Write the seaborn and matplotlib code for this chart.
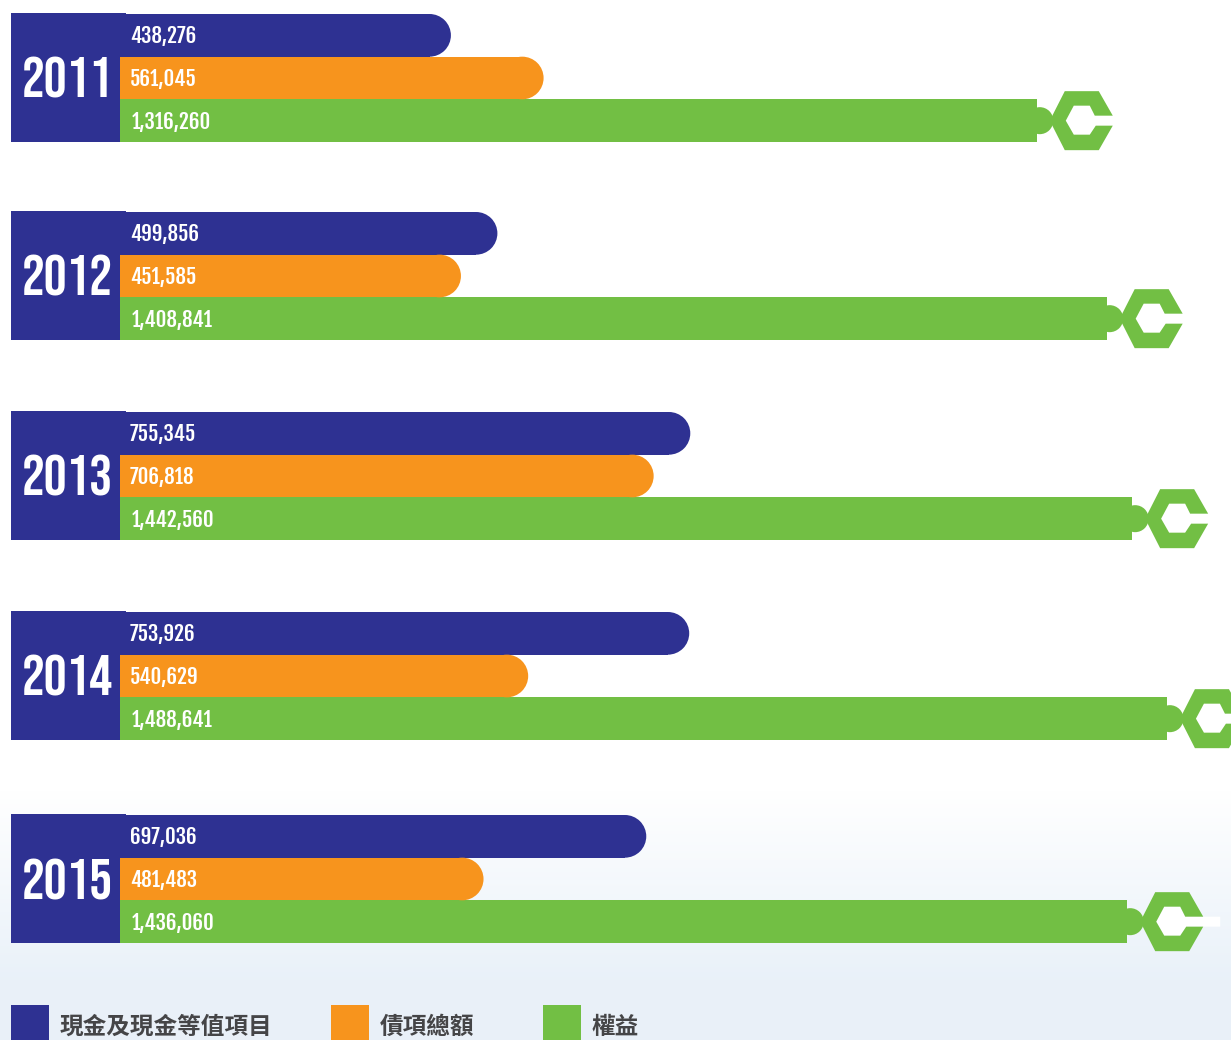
import numpy as np
import pandas as pd
import seaborn as sns
import matplotlib.pyplot as plt
from matplotlib.patches import Ellipse, Polygon, Rectangle

# Data
years = ['2011', '2012', '2013', '2014', '2015']
items = ['現金及現金等值項目', '債項總額', '權益']
cash = [438276, 499856, 755345, 753926, 697036]
debt = [561045, 451585, 706818, 540629, 481483]
equity = [1316260, 1408841, 1442560, 1488641, 1436060]

# Colours and layout, in pixels of the 1231x1040 picture
colors = ['#2e3192', '#f7941d', '#72bf44']
W, H = 1231, 1040
panel_tops = [14, 212, 412, 612, 815]
panel_h = 128
bar_x0 = 120
px_per_value = 0.000755
legend_x = [11, 331, 543]

# Wrench head, offsets from the tip of the equity bar
wrench = [(-49, -29.5), (-15, -29.5), (-1, -5), (-19, -5), (-24, -15), (-40, -15), (-48, 0),
          (-40, 14), (-24, 14), (-18, 5), (-1, 5), (-15, 29.5), (-49, 29.5), (-64, 0)]
wrench_gap = [(-19, -5), (-24, -15), (-40, -15), (-48, 0), (-40, 14), (-24, 14), (-18, 5),
              (16, 5), (16, -5)]

sns.set_theme(style='white')
plt.rcParams['font.family'] = ['Bebas Neue', 'Liberation Sans Narrow', 'DejaVu Sans']
label_fonts = ['Fjalla One', 'Liberation Sans Narrow', 'DejaVu Sans']

fig = plt.figure(figsize=(W / 100, H / 100), dpi=100)

# Background layer in picture pixels
bg = fig.add_axes([0, 0, 1, 1])
ramp = np.clip((np.arange(H) - 790) / 190, 0, 1)[:, None, None]
white = np.array([1.0, 1.0, 1.0])
pale = np.array([0.914, 0.945, 0.976])
bg.imshow(white + ramp * (pale - white), extent=[0, W, H, 0], aspect='auto')
bg.set_xlim(0, W)
bg.set_ylim(H, 0)
bg.axis('off')

for top in panel_tops:
    bg.add_patch(Rectangle((11, top - 1), 109, panel_h + 1, color=colors[0], lw=0))
    bg.add_patch(Rectangle((11, top - 1), 115, 4, color=colors[0], lw=0))

# One small axes for each year
for i, year in enumerate(years):
    df = pd.DataFrame({'item': items, 'value': [cash[i], debt[i], equity[i]]})
    ax = fig.add_axes([bar_x0 / W, 1 - (panel_tops[i] + panel_h) / H, (W - bar_x0) / W, panel_h / H])
    sns.barplot(data=df, x='value', y='item', hue='item', palette=colors, hue_order=items,
                width=1, saturation=1, legend=False, linewidth=0, ax=ax)
    ax.set_xlim(0, (W - bar_x0) / px_per_value)
    ax.set_ylim(2.5, -0.5)
    ax.axis('off')

    unit_x = 1 / px_per_value
    unit_y = 3 / panel_h
    for j, bar in enumerate(list(ax.patches)):
        end = bar.get_width()
        yc = bar.get_y() + bar.get_height() / 2
        bar.set_edgecolor('none')
        if j < 2:
            # round the end of the bar
            r = panel_h / 6
            bar.set_width(end - r * unit_x)
            ax.add_patch(Ellipse((end - r * unit_x, yc), 2 * r * unit_x, 2 * r * unit_y,
                                 color=colors[j], lw=0))
        else:
            # equity bar ends in a spanner
            bar.set_width(end - 77 * unit_x)
            ax.add_patch(Ellipse((end - 74 * unit_x, yc), 27 * unit_x, 27 * unit_y,
                                 color=colors[j], lw=0))
            gap = [(end + dx * unit_x, yc + dy * unit_y) for dx, dy in wrench_gap]
            head = [(end + dx * unit_x, yc + dy * unit_y) for dx, dy in wrench]
            ax.add_patch(Polygon(gap, color='white', lw=0, zorder=3, clip_on=False))
            ax.add_patch(Polygon(head, color=colors[j], lw=0, zorder=4, clip_on=False))

        ax.annotate(f'{df.value[j]:,}', (0, yc), xytext=(12 if j == 2 else 10, -1),
                    textcoords='offset pixels', ha='left', va='center', family=label_fonts,
                    color='white', fontsize=15, zorder=5)

    ax.annotate(year, (0, 1), xytext=(-53, 0), textcoords='offset pixels', ha='center',
                va='center', color='white', fontsize=41, zorder=5)

# Legend along the bottom edge
for x, item, color in zip(legend_x, items, colors):
    bg.add_patch(Rectangle((x, 1005), 38, 40, color=color, lw=0))
    bg.text(x + 49, 1027, item, family=['Noto Sans CJK TC', 'DejaVu Sans'], fontsize=17,
            fontweight='semibold', color='#454547', ha='left', va='center')

plt.savefig('out.png', dpi=100)
